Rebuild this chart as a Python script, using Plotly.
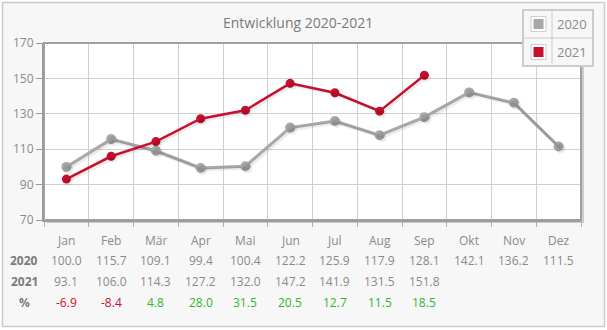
import plotly.graph_objects as go

months = ["Jan", "Feb", "Mär", "Apr", "Mai", "Jun", "Jul", "Aug", "Sep", "Okt", "Nov", "Dez"]
v2020 = [100.0, 115.7, 109.1, 99.4, 100.4, 122.2, 125.9, 117.9, 128.1, 142.1, 136.2, 111.5]
v2021 = [93.1, 106.0, 114.3, 127.2, 132.0, 147.2, 141.9, 131.5, 151.8]
pct = [-6.9, -8.4, 4.8, 28.0, 31.5, 20.5, 12.7, 11.5, 18.5]
yticks = [70, 90, 110, 130, 150, 170]

W, H = 607, 330
L, R, T, B = 44, 581, 43, 220
PW, PH = R - L, B - T

def px(x):
    return (x - L) / PW

def py(y):
    return 1 - (y - T) / PH

C20 = "#a8a8a8"
C21 = "#c8102e"
GREEN = "#2fb52f"
TXT = "#8a8a8a"
FONT = "Open Sans"

x = list(range(len(months)))
xr = [-0.5, len(months) - 0.5]
yr = [70, 170]
dx = 2 * (xr[1] - xr[0]) / PW
dy = 2 * (yr[1] - yr[0]) / PH

fig = go.Figure()
# shadows
for vals, w, ms in [(v2020, 3, 10), (v2021, 2.5, 9)]:
    fig.add_trace(go.Scatter(x=x[:len(vals)], y=vals, mode="lines+markers",
                             line=dict(color="rgba(0,0,0,0.08)", width=w),
                             marker=dict(size=ms, color="rgba(0,0,0,0.08)"),
                             xaxis="x2", yaxis="y2", hoverinfo="skip", showlegend=False))
fig.add_trace(go.Scatter(x=x, y=v2020, mode="lines+markers", name="2020",
                         line=dict(color=C20, width=3), marker=dict(size=10, color=C20)))
fig.add_trace(go.Scatter(x=x[:len(v2021)], y=v2021, mode="lines+markers", name="2021",
                         line=dict(color=C21, width=2.5), marker=dict(size=9, color=C21)))

shapes = []
ann = []

def text(xv, yv, s, size=12, color=TXT, xref="paper"):
    ann.append(dict(x=xv, y=yv, xref=xref, yref="paper", text=s, showarrow=False,
                    xanchor="center", yanchor="middle",
                    font=dict(size=size, color=color, family=FONT)))

# outer border
shapes.append(dict(type="rect", xref="paper", yref="paper", x0=px(2.5), x1=px(604.5),
                   y0=py(326.5), y1=py(2.5), line=dict(color="#cccccc", width=1.5),
                   fillcolor="#f7f7f7", layer="below"))
# plot shadow + frame
shapes.append(dict(type="rect", xref="paper", yref="paper", x0=px(L + 3), x1=px(R + 3),
                   y0=py(B + 3), y1=py(T + 3), line=dict(width=0),
                   fillcolor="#cdcdcd", layer="below"))
shapes.append(dict(type="rect", xref="paper", yref="paper", x0=0, x1=1, y0=0, y1=1,
                   line=dict(width=0), fillcolor="white", layer="below"))
shapes.append(dict(type="rect", xref="paper", yref="paper", x0=0, x1=1, y0=0, y1=1,
                   line=dict(color="#a0a0a0", width=2), layer="above"))

# title
text(px(298), py(23), "Entwicklung 2020-2021", size=14, color="#7a7a7a")

# table
rows_y = [241, 260, 281, 302]
for i, m in enumerate(months):
    text(i, py(rows_y[0]), m, xref="x")
    text(i, py(rows_y[1]), f"{v2020[i]:.1f}", xref="x")
for i, v in enumerate(v2021):
    text(i, py(rows_y[2]), f"{v:.1f}", xref="x")
for i, p in enumerate(pct):
    text(i, py(rows_y[3]), f"{p:.1f}", color=C21 if p < 0 else GREEN, xref="x")
for lab, yy in [("2020", rows_y[1]), ("2021", rows_y[2]), ("%", rows_y[3])]:
    text(px(24), py(yy), f"<b>{lab}</b>", color="#7a7a7a")

# legend (table style)
lx0, lx1, lxm = 523, 593, 552
ly0, ly1, lym = 10, 66, 38
shapes.append(dict(type="rect", xref="paper", yref="paper", x0=px(lx0), x1=px(lx1),
                   y0=py(ly1), y1=py(ly0), line=dict(color="#cccccc", width=2),
                   fillcolor="#f7f7f7", layer="above"))
shapes.append(dict(type="line", xref="paper", yref="paper", x0=px(lx0), x1=px(lx1),
                   y0=py(lym), y1=py(lym), line=dict(color="#cccccc", width=1), layer="above"))
shapes.append(dict(type="line", xref="paper", yref="paper", x0=px(lxm), x1=px(lxm),
                   y0=py(ly1), y1=py(ly0), line=dict(color="#cccccc", width=1), layer="above"))
for name, col, yc in [("2020", C20, 24), ("2021", C21, 52)]:
    shapes.append(dict(type="rect", xref="paper", yref="paper", x0=px(531), x1=px(546),
                       y0=py(yc + 7.5), y1=py(yc - 7.5), line=dict(color="#cfcfcf", width=1),
                       fillcolor="white", layer="above"))
    shapes.append(dict(type="rect", xref="paper", yref="paper", x0=px(533.5), x1=px(543.5),
                       y0=py(yc + 5), y1=py(yc - 5), line=dict(width=0),
                       fillcolor=col, layer="above"))
    text(px(572), py(yc), name, size=13, color="#8a8a8a")

fig.update_layout(
    width=W, height=H,
    margin=dict(l=L, r=W - R, t=T, b=H - B),
    paper_bgcolor="white", plot_bgcolor="rgba(0,0,0,0)",
    showlegend=False,
    font=dict(family=FONT, color=TXT),
    shapes=shapes, annotations=ann,
    xaxis=dict(range=xr, tickvals=[i - 0.5 for i in range(len(months) + 1)],
               showticklabels=False, ticks="outside", ticklen=5, tickcolor="#b0b0b0",
               showgrid=True, gridcolor="#d0d0d0", gridwidth=1, zeroline=False,
               showline=True, linecolor="#999999", linewidth=2, fixedrange=True),
    yaxis=dict(range=yr, tickvals=yticks, ticks="outside", ticklen=6, tickcolor="#999999",
               tickfont=dict(size=12, color=TXT, family=FONT),
               showgrid=True, gridcolor="#d0d0d0", gridwidth=1, zeroline=False,
               showline=True, linecolor="#999999", linewidth=2, fixedrange=True),
    xaxis2=dict(range=[xr[0] - dx, xr[1] - dx], overlaying="x", visible=False, fixedrange=True),
    yaxis2=dict(range=[yr[0] + dy, yr[1] + dy], overlaying="y", visible=False, fixedrange=True),
)

fig.write_html("out.html")
